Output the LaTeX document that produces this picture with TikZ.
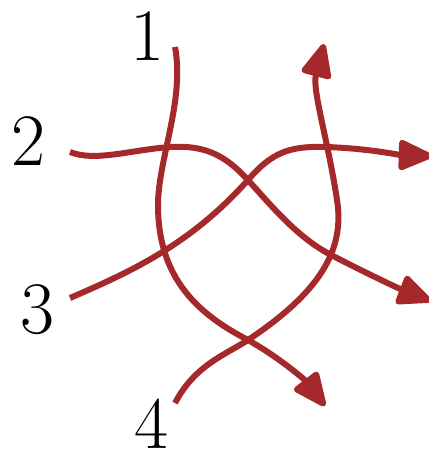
\documentclass[tikz,border=0pt]{standalone}
\usepackage{amsmath,amssymb}
\usepackage{tikz}
\usetikzlibrary{arrows.meta}
\usepackage{xcolor}
\definecolor{strandred}{RGB}{165,41,43}

\begin{document}
\begin{tikzpicture}[x=1pt,y=-1pt,
    strand/.style={strandred,line width=6pt,-{Triangle[length=38pt,width=32pt,round]}},
    num/.style={inner sep=0pt,font=\fontsize{74}{74}\selectfont}]
    \useasboundingbox (0,0) rectangle (428,457);

    % Strand labels
    \node[num] (n1) at (147,36) {1};
    \node[num] (n2) at (28,141) {2};
    \node[num] (n3) at (37,310) {3};
    \node[num] (n4) at (151,424) {4};

    % Free ends of the strands
    \coordinate (s1) at (175,47);
    \coordinate (s2) at (70,152);
    \coordinate (s3) at (70,298);
    \coordinate (s4) at (175,403);
    \coordinate (e1) at (325,406);
    \coordinate (e2) at (431,301);
    \coordinate (e3) at (432,156);
    \coordinate (e4) at (324,44);

    % Crossings
    \coordinate (x23) at (248,180);
    \coordinate (x14) at (248,340);

    % Strand 1
    \draw[strand] (s1) .. controls (185,100) and (158,160) .. (158,205)
        .. controls (158,280) and (200,315) .. (x14)
        .. controls (280,358) and (305,380) .. (e1);

    % Strand 2
    \draw[strand] (s2) .. controls (95,162) and (130,150) .. (170,147)
        .. controls (205,145) and (225,155) .. (x23)
        .. controls (275,210) and (300,240) .. (335,257)
        .. controls (370,275) and (400,289) .. (e2);

    % Strand 3
    \draw[strand] (s3) .. controls (130,272) and (190,245) .. (x23)
        .. controls (272,152) and (290,146) .. (325,147)
        .. controls (365,148) and (400,155) .. (e3);

    % Strand 4
    \draw[strand] (s4) .. controls (195,365) and (225,355) .. (x14)
        .. controls (320,292) and (345,250) .. (337,200)
        .. controls (328,140) and (312,90) .. (e4);
\end{tikzpicture}
\end{document}
